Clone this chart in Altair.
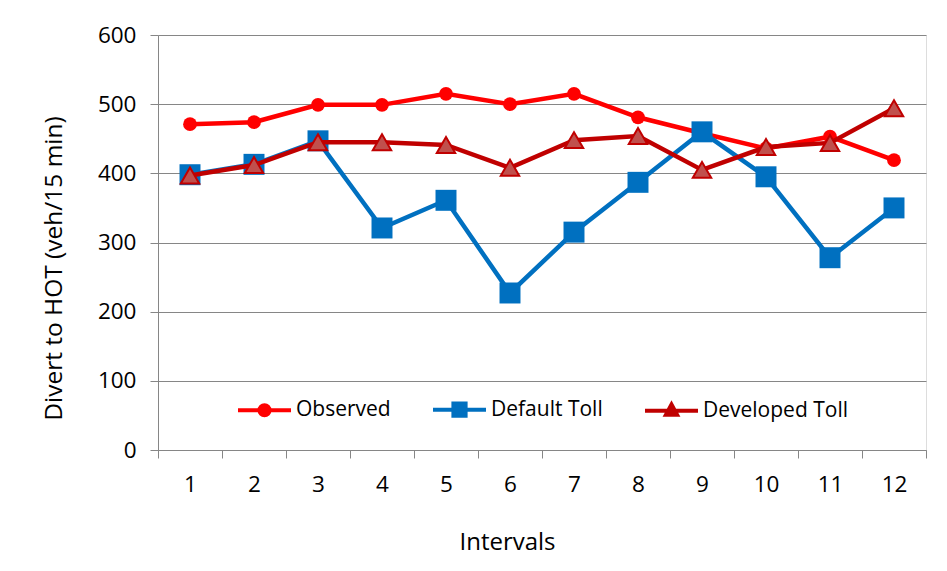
import altair as alt
import pandas as pd

intervals = list(range(1, 13))
observed = [471, 474, 499, 499, 515, 500, 515, 481, 458, 436, 453, 419]
default_toll = [398, 413, 447, 321, 361, 227, 315, 387, 460, 395, 278, 350]
developed_toll = [397, 412, 445, 445, 441, 408, 448, 454, 405, 438, 444, 494]
series_names = ["Observed", "Default Toll", "Developed Toll"]

rows = []
for name, vals in zip(series_names, [observed, default_toll, developed_toll]):
    for i, v in zip(intervals, vals):
        rows.append({"interval": i, "series": name, "value": v})
df = pd.DataFrame(rows)

FONT = "Open Sans"

x_enc = alt.X(
    "interval:O",
    scale=alt.Scale(type="band", paddingInner=0, paddingOuter=0),
    axis=alt.Axis(
        title="Intervals", labelAngle=0, tickBand="extent", tickSize=8,
        labelPadding=15, domainColor="#868686", tickColor="#868686",
        labelFontSize=22.5, titleFontSize=24, labelColor="#000000", titleColor="#000000",
        labelFont=FONT, titleFont=FONT, titleFontWeight="normal",
        titleX=349, titleY=99, titleBaseline="alphabetic", titleAlign="center",
    ),
)
y_enc = alt.Y(
    "value:Q",
    scale=alt.Scale(domain=[0, 600], nice=False),
    axis=alt.Axis(
        title="Divert to HOT (veh/15 min)", values=[0, 100, 200, 300, 400, 500, 600],
        tickSize=8, labelPadding=14, gridColor="#868686", grid=True,
        domainColor="#868686", tickColor="#868686",
        labelFontSize=22.5, titleFontSize=24.5, labelColor="#000000", titleColor="#000000",
        labelFont=FONT, titleFont=FONT, titleFontWeight="normal",
        titleAngle=-90, titleX=-97, titleY=233, titleBaseline="alphabetic", titleAlign="center",
    ),
)

base = alt.Chart(df)

styles = {
    "Observed": dict(line="#FF0000", shape="circle", fill="#FF0000", stroke="#FF0000", size=190, sw=0),
    "Default Toll": dict(line="#0070C0", shape="square", fill="#0070C0", stroke="#0070C0", size=440, sw=0),
    "Developed Toll": dict(line="#C00000", shape="triangle-up", fill="#C0504D", stroke="#C00000", size=340, sw=2),
}

layers = []
for name in series_names:
    s = styles[name]
    sub = base.transform_filter(alt.datum.series == name)
    layers.append(
        sub.mark_line(color=s["line"], strokeWidth=4.5).encode(x=x_enc, y=y_enc)
    )
    layers.append(
        sub.mark_point(
            shape=s["shape"], filled=True, fill=s["fill"], stroke=s["stroke"],
            strokeWidth=s["sw"], size=s["size"], opacity=1,
        ).encode(x=x_enc, y=y_enc)
    )

legend_paths = [
    "M-1,0H1M0.19,0A0.19,0.19,0,1,1,-0.19,0A0.19,0.19,0,1,1,0.19,0Z",
    "M-1,0H1M-0.23,-0.23H0.23V0.23H-0.23Z",
    "M-1,0H1M0,-0.24L0.21,0.15H-0.21Z",
]
legend_layer = base.mark_point(filled=True, size=0, strokeWidth=0, opacity=1).encode(
    x=x_enc,
    y=y_enc,
    fill=alt.Fill(
        "series:N",
        scale=alt.Scale(domain=series_names, range=["#FF0000", "#0070C0", "#C0504D"]),
        legend=alt.Legend(
            title=None, orient="none", direction="horizontal", columns=3,
            legendX=78, legendY=346, symbolSize=2809, symbolStrokeWidth=4,
            symbolOpacity=1, labelFontSize=21, labelFont=FONT, labelColor="#000000",
            labelOffset=3, columnPadding=34, padding=0, labelLimit=300,
        ),
    ),
    stroke=alt.Stroke(
        "series:N",
        scale=alt.Scale(domain=series_names, range=["#FF0000", "#0070C0", "#C00000"]),
    ),
    shape=alt.Shape(
        "series:N",
        scale=alt.Scale(domain=series_names, range=legend_paths),
    ),
)
layers.append(legend_layer)

chart = alt.layer(*layers).properties(
    width=768, height=415,
    autosize=alt.AutoSizeParams(type="none"),
    padding={"left": 150, "top": 27, "right": 5, "bottom": 110},
).configure_view(stroke="#7f7f7f", strokeWidth=1.2).configure(background="white")

chart.save("out.html", embed_options={"renderer": "svg", "actions": False})
